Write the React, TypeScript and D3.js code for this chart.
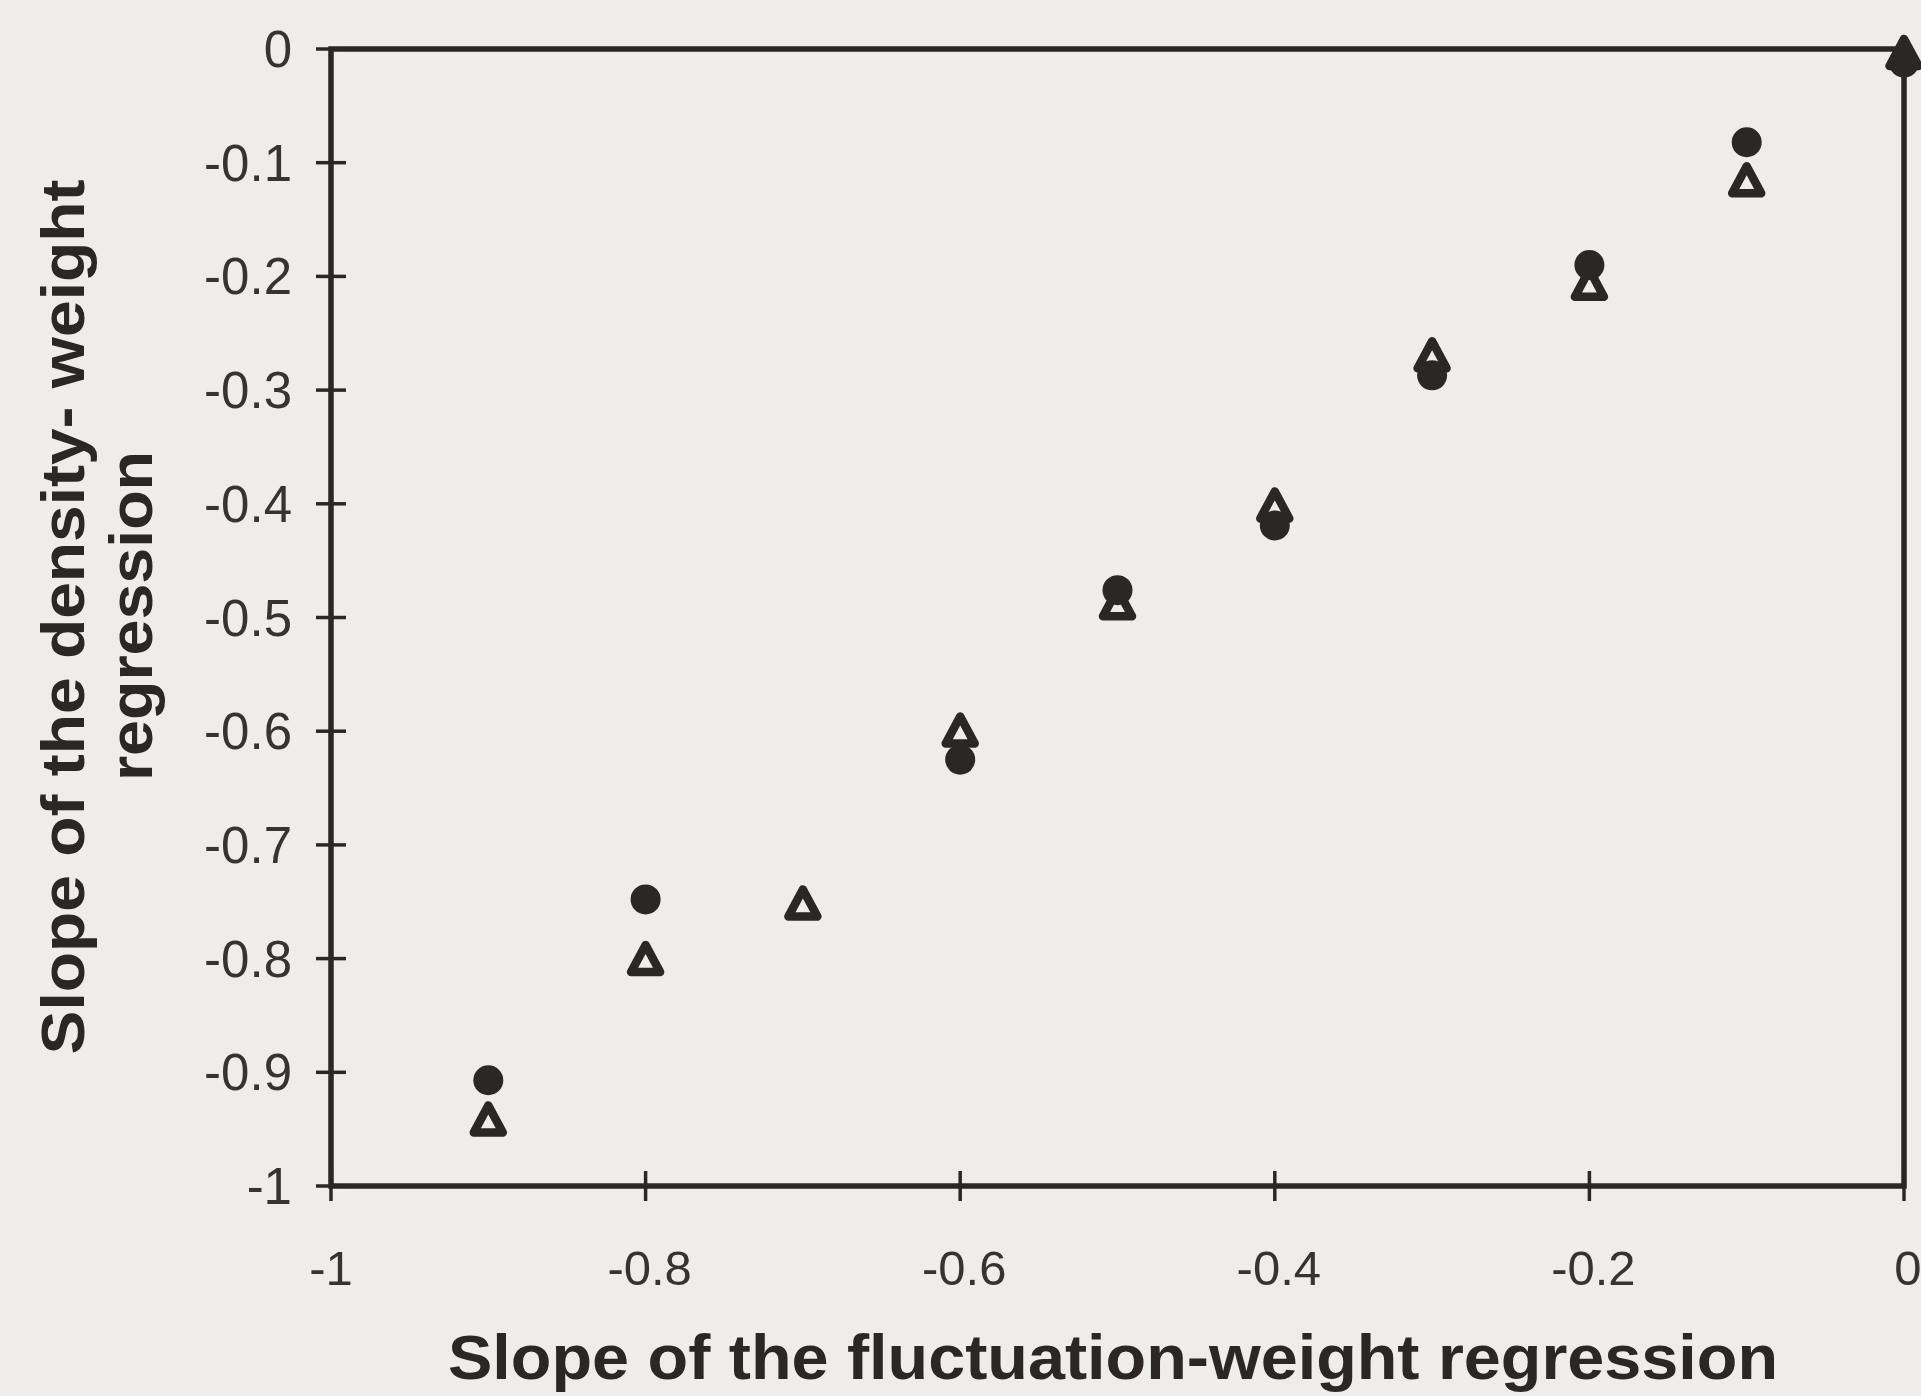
import React from "react";
import * as d3 from "d3";

const xTicks = [-1, -0.8, -0.6, -0.4, -0.2, 0];
const xTickLabels = ["-1", "-0.8", "-0.6", "-0.4", "-0.2", "0"];
const yTicks = [0, -0.1, -0.2, -0.3, -0.4, -0.5, -0.6, -0.7, -0.8, -0.9, -1];
const yTickLabels = ["0", "-0.1", "-0.2", "-0.3", "-0.4", "-0.5", "-0.6", "-0.7", "-0.8", "-0.9", "-1"];

const fluctuationSlopes = [-0.9, -0.8, -0.7, -0.6, -0.5, -0.4, -0.3, -0.2, -0.1, 0];
const circleSlopes: (number | null)[] = [-0.907, -0.748, null, -0.625, -0.476, -0.419, -0.287, -0.19, -0.082, -0.012];
const triangleSlopes: (number | null)[] = [-0.941, -0.8, -0.751, -0.599, -0.487, -0.401, -0.269, -0.206, -0.115, -0.003];

const xTitle = "Slope of the fluctuation-weight regression";
const yTitleLines = ["Slope of the density- weight", "regression"];

const W = 1921;
const H = 1396;
const BG = "#eeede9";
const INK = "#2b2727";
const TEXT = "#363333";
const FONT = "'Liberation Sans', Arial, Helvetica, sans-serif";

export default function App() {
  const x = d3.scaleLinear().domain([-1, 0]).range([331, 1904]);
  const y = d3.scaleLinear().domain([-1, 0]).range([1186, 49]);
  const [x0, x1] = x.range();
  const [yb, yt] = y.range();
  const tickHalf = 15;

  const triPath = "M0,-14.5 L14.5,12.5 L-14.5,12.5 Z";

  return (
    <svg
      width={W}
      height={H}
      style={{ position: "absolute", left: 0, top: 0, display: "block" }}
      xmlns="http://www.w3.org/2000/svg"
    >
      <rect x={0} y={0} width={W} height={H} fill={BG} />

      {/* frame */}
      <rect x={x0} y={yt} width={x1 - x0} height={yb - yt} fill="none" stroke={INK} strokeWidth={5.5} />

      {/* y ticks */}
      {yTicks.map((v) => (
        <line key={"yt" + v} x1={x0 - tickHalf} x2={x0 + tickHalf} y1={y(v)} y2={y(v)} stroke={INK} strokeWidth={3.5} />
      ))}
      {/* x ticks */}
      {xTicks.map((v) => (
        <line key={"xt" + v} x1={x(v)} x2={x(v)} y1={yb - tickHalf} y2={yb + tickHalf} stroke={INK} strokeWidth={3.5} />
      ))}

      {/* y tick labels */}
      {yTicks.map((v, i) => (
        <text
          key={"yl" + v}
          x={292}
          y={y(v) + 18}
          textAnchor="end"
          fontFamily={FONT}
          fontSize={51}
          fill={TEXT}
        >
          {yTickLabels[i]}
        </text>
      ))}
      {/* x tick labels */}
      {xTicks.map((v, i) => (
        <text
          key={"xl" + v}
          x={x(v) + (i === 0 ? 0 : 4)}
          y={1285}
          textAnchor="middle"
          fontFamily={FONT}
          fontSize={49}
          fill={TEXT}
        >
          {xTickLabels[i]}
        </text>
      ))}

      {/* triangles (open) */}
      {fluctuationSlopes.map((fx, i) =>
        triangleSlopes[i] == null ? null : (
          <path
            key={"tri" + i}
            d={triPath}
            transform={`translate(${x(fx)},${y(triangleSlopes[i] as number) + 1})`}
            fill={BG}
            stroke={INK}
            strokeWidth={8.5}
            strokeLinejoin="round"
          />
        )
      )}
      {/* circles (filled) */}
      {fluctuationSlopes.map((fx, i) =>
        circleSlopes[i] == null ? null : (
          <circle key={"c" + i} cx={x(fx)} cy={y(circleSlopes[i] as number)} r={15} fill={INK} />
        )
      )}

      {/* x axis title */}
      <text
        x={1113}
        y={1379}
        textAnchor="middle"
        fontFamily={FONT}
        fontWeight="bold"
        fontSize={63}
        fill={INK}
        textLength={1330}
        lengthAdjust="spacingAndGlyphs"
      >
        {xTitle}
      </text>

      {/* y axis title */}
      <text
        transform="translate(84,617) rotate(-90)"
        textAnchor="middle"
        fontFamily={FONT}
        fontWeight="bold"
        fontSize={62}
        fill={INK}
        textLength={875}
        lengthAdjust="spacingAndGlyphs"
      >
        {yTitleLines[0]}
      </text>
      <text
        transform="translate(152,616) rotate(-90)"
        textAnchor="middle"
        fontFamily={FONT}
        fontWeight="bold"
        fontSize={62}
        fill={INK}
        textLength={330}
        lengthAdjust="spacingAndGlyphs"
      >
        {yTitleLines[1]}
      </text>
    </svg>
  );
}
